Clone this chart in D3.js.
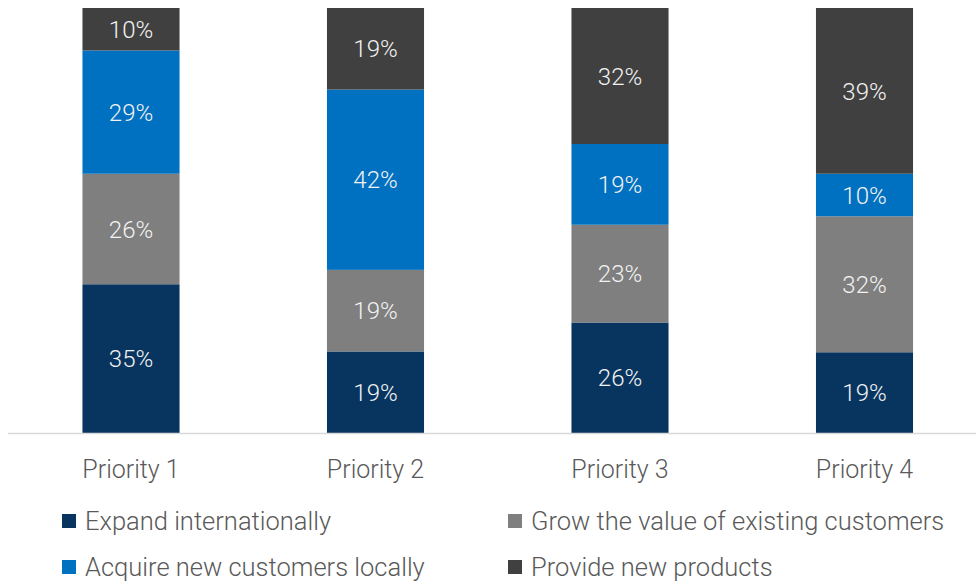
<!DOCTYPE html>
<html>
<head>
<meta charset="utf-8">
<script src="https://cdn.jsdelivr.net/npm/d3@7"></script>
<style>
  body { margin: 0; background: #fff; }
  text { font-family: Roboto, "Open Sans", sans-serif; font-weight: 300; }
</style>
</head>
<body>
<svg id="chart"></svg>
<script>
const width = 976, height = 584;

// chart values
const priorities = ["Priority 1", "Priority 2", "Priority 3", "Priority 4"];
const seriesNames = ["Expand internationally", "Grow the value of existing customers",
                     "Acquire new customers locally", "Provide new products"];
const expandIntl = [35, 19, 26, 19];
const growValue = [26, 19, 23, 32];
const acquireLocal = [29, 42, 19, 10];
const provideNew = [10, 19, 32, 39];
const colors = ["#08355f", "#7f7f7f", "#0070c0", "#404040"];

const keys = ["expand", "grow", "acquire", "provide"];
const rows = priorities.map((p, i) => ({
  priority: p,
  expand: expandIntl[i],
  grow: growValue[i],
  acquire: acquireLocal[i],
  provide: provideNew[i]
}));

const svg = d3.select("#chart")
  .attr("width", width)
  .attr("height", height);

const plotTop = 8, plotBottom = 433;

let x = d3.scaleBand()
  .domain(priorities)
  .range([8.75, 986.75])
  .paddingInner(0.603)
  .paddingOuter(0.3015);

let y = d3.scaleLinear()
  .domain([0, 1])
  .range([plotBottom, plotTop]);

let color = d3.scaleOrdinal().domain(keys).range(colors);

// each bar fills to 100%
const stacked = d3.stack().keys(keys).offset(d3.stackOffsetExpand)(rows);

const layers = svg.selectAll("g.layer")
  .data(stacked)
  .enter().append("g")
  .attr("class", "layer")
  .attr("fill", d => color(d.key));

layers.selectAll("rect")
  .data(d => d)
  .enter().append("rect")
  .attr("x", d => x(d.data.priority))
  .attr("width", x.bandwidth())
  .attr("y", d => y(d[1]))
  .attr("height", d => y(d[0]) - y(d[1]));

layers.selectAll("text")
  .data(d => d.map(v => Object.assign({key: d.key}, v)))
  .enter().append("text")
  .attr("x", d => x(d.data.priority) + x.bandwidth() / 2)
  .attr("y", d => (y(d[0]) + y(d[1])) / 2)
  .attr("dy", "0.36em")
  .attr("text-anchor", "middle")
  .attr("fill", "#f2f2f2")
  .style("font-size", "24px")
  .text(d => d.data[d.key] + "%");

// baseline
svg.append("line")
  .attr("x1", 8).attr("x2", width)
  .attr("y1", plotBottom + 0.5).attr("y2", plotBottom + 0.5)
  .attr("stroke", "#d9d9d9")
  .attr("stroke-width", 1.5);

// category labels
const xAxis = svg.append("g")
  .attr("transform", `translate(0,${plotBottom})`)
  .call(d3.axisBottom(x).tickSize(0).tickPadding(27));
xAxis.select(".domain").remove();
xAxis.selectAll("text")
  .attr("fill", "#595959")
  .style("font-size", "25px")
  .style("font-family", "Roboto, sans-serif");

// legend, two columns
const legendPos = [[62, 521], [508, 521], [62, 567], [508, 567]];
const legend = svg.selectAll("g.legend")
  .data(seriesNames)
  .enter().append("g")
  .attr("class", "legend")
  .attr("transform", (d, i) => `translate(${legendPos[i][0]},${legendPos[i][1]})`);

legend.append("rect")
  .attr("x", 0).attr("y", -7)
  .attr("width", 14).attr("height", 14)
  .attr("fill", (d, i) => colors[i]);

legend.append("text")
  .attr("x", 23)
  .attr("dy", "0.35em")
  .attr("fill", "#595959")
  .style("font-size", "25.5px")
  .text(d => d);
</script>
</body>
</html>
